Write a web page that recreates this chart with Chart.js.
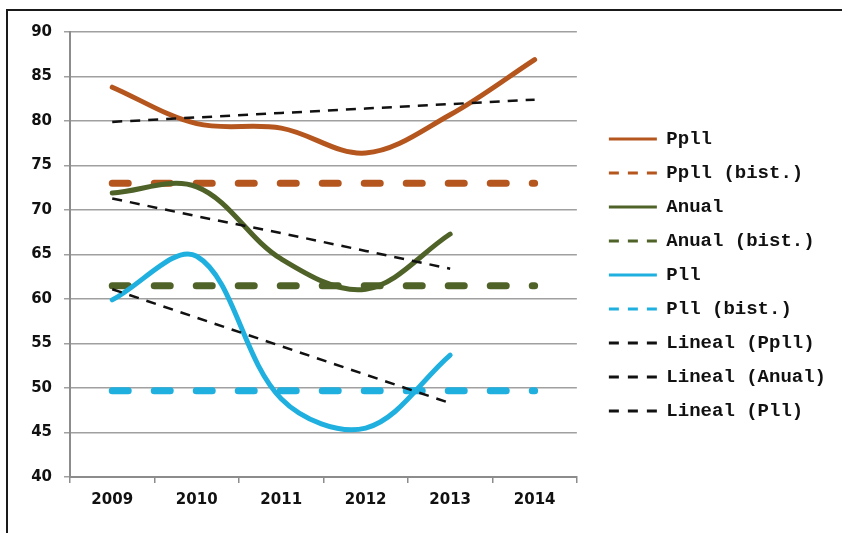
<!DOCTYPE html>
<html>
<head>
<meta charset="utf-8">
<script src="https://cdn.jsdelivr.net/npm/chart.js@4.4.0/dist/chart.umd.min.js"></script>
<style>
  html, body { margin: 0; padding: 0; background: #fff; overflow: hidden; }
  #frame { position: absolute; left: 6px; top: 9px; width: 900px; height: 600px; border-top: 2px solid #1a1a1a; border-left: 2px solid #1a1a1a; }
  #wrap { position: absolute; left: 0; top: 0; width: 842px; height: 533px; }
</style>
</head>
<body>
<div id="frame"></div>
<div id="wrap"><canvas id="chart" width="842" height="533"></canvas></div>
<script>
const years = ['2009', '2010', '2011', '2012', '2013', '2014']
const yTicks = [40, 45, 50, 55, 60, 65, 70, 75, 80, 85, 90]

const ppll = [83.8, 79.7, 79.2, 76.4, 80.7, 86.9]
const ppllHist = [73, 73, 73, 73, 73, 73]
const anual = [71.9, 72.6, 64.5, 61.1, 67.3, null]
const anualHist = [61.5, 61.5, 61.5, 61.5, 61.5, 61.5]
const pll = [59.9, 64.8, 48.8, 45.5, 53.7, null]
const pllHist = [49.7, 49.7, 49.7, 49.7, 49.7, 49.7]

// trend lines
const ppllTrend = [79.9, 80.4, 80.9, 81.4, 81.9, 82.4]
const anualTrend = [71.3, 69.3, 67.4, 65.4, 63.4, null]
const pllTrend = [61.1, 57.9, 54.7, 51.5, 48.3, null]

const BROWN = '#b5561e'
const GREEN = '#4f6228'
const BLUE = '#1fb0e0'
const BLACK = '#111111'

const solid = (label, data, color, order) => ({
  label, data, order,
  borderColor: color,
  backgroundColor: color,
  borderWidth: 5,
  borderCapStyle: 'round',
  tension: 0.35,
  pointRadius: 0,
  fill: false
})

const hist = (label, data, color, order) => ({
  label, data, order,
  borderColor: color,
  backgroundColor: color,
  borderWidth: 7,
  borderCapStyle: 'round',
  borderDash: [16, 26],
  pointRadius: 0,
  fill: false
})

const trend = (label, data, order) => ({
  label, data, order,
  borderColor: BLACK,
  backgroundColor: BLACK,
  borderWidth: 2.5,
  borderDash: [10, 8],
  pointRadius: 0,
  fill: false
})

const tickFont = { family: 'DejaVu Sans', weight: 'bold', size: 15 }

new Chart(document.getElementById('chart'), {
  type: 'line',
  data: {
    labels: years,
    datasets: [
      solid('Ppll', ppll, BROWN, 9),
      hist('Ppll (bist.)', ppllHist, BROWN, 8),
      solid('Anual', anual, GREEN, 7),
      hist('Anual (bist.)', anualHist, GREEN, 6),
      solid('Pll', pll, BLUE, 5),
      hist('Pll (bist.)', pllHist, BLUE, 4),
      trend('Lineal (Ppll)', ppllTrend, 3),
      trend('Lineal (Anual)', anualTrend, 2),
      trend('Lineal (Pll)', pllTrend, 1)
    ]
  },
  options: {
    responsive: false,
    animation: false,
    layout: { padding: { top: 32, bottom: 15, left: 0, right: 6 } },
    plugins: {
      tooltip: { enabled: false },
      legend: {
        position: 'right',
        maxWidth: 320,
        labels: {
          usePointStyle: true,
          pointStyleWidth: 48,
          padding: 15,
          color: BLACK,
          font: { family: 'Liberation Mono', weight: 'bold', size: 19 },
          generateLabels: chart => chart.data.datasets.map((ds, i) => ({
            text: ds.label,
            strokeStyle: ds.borderColor,
            fillStyle: ds.borderColor,
            lineWidth: 3,
            lineDash: ds.borderDash ? [10, 9] : [],
            pointStyle: 'line',
            fontColor: BLACK,
            datasetIndex: i,
            hidden: false
          }))
        }
      }
    },
    scales: {
      x: {
        offset: true,
        grid: { offset: true, drawOnChartArea: false, tickLength: 6, color: '#8c8c8c', lineWidth: 1.5 },
        border: { color: '#8c8c8c', width: 2 },
        ticks: { color: BLACK, font: tickFont, padding: 8 },
        afterFit: axis => { axis.height = 41 }
      },
      y: {
        min: 40,
        max: 90,
        afterBuildTicks: axis => { axis.ticks = yTicks.map(v => ({ value: v })) },
        grid: { color: '#a0a0a0', lineWidth: 1.5, tickLength: 6 },
        border: { color: '#8c8c8c', width: 2 },
        ticks: { color: BLACK, font: tickFont, padding: 12 },
        afterFit: axis => { axis.width = 70 }
      },
      spacer: {
        position: 'right',
        display: true,
        grid: { display: false },
        border: { display: false },
        ticks: { display: false },
        afterFit: axis => { axis.width = 17 }
      }
    }
  }
})
</script>
</body>
</html>
